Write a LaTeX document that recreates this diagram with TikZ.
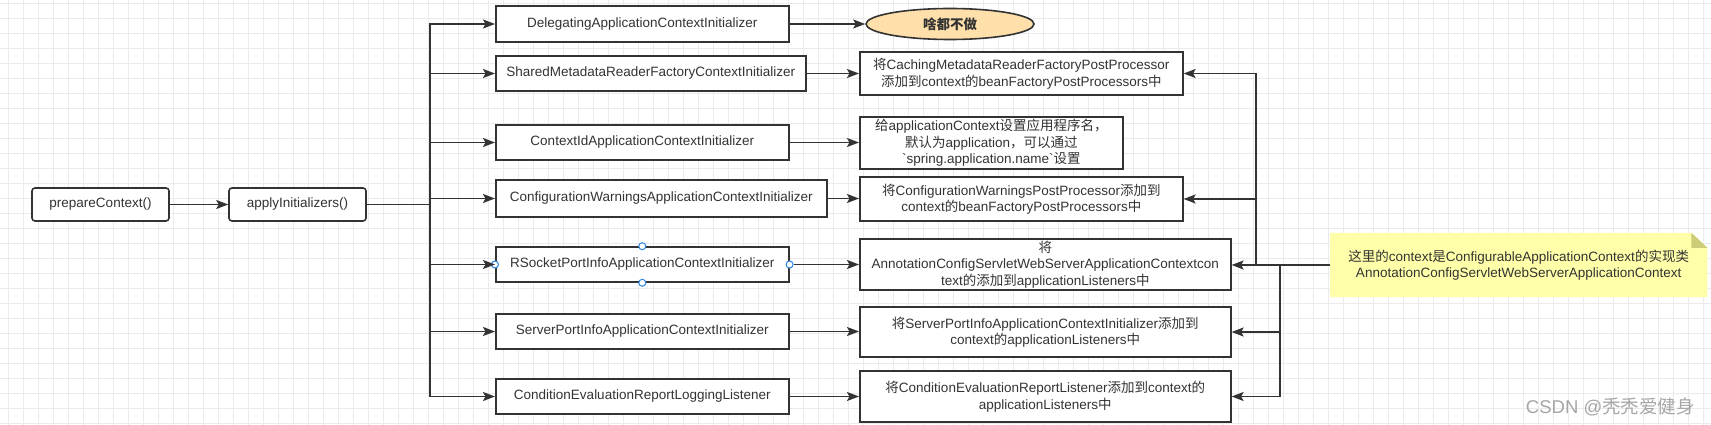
\documentclass[tikz,border=0pt]{standalone}
\usepackage{fontspec}
\setmainfont{Liberation Sans}
\newfontfamily\lat{Liberation Sans}
\newfontfamily\cjk{Noto Sans CJK SC}
\usetikzlibrary{arrows.meta,shapes.geometric,backgrounds}
\pgfdeclarelayer{gridlayer}
\pgfsetlayers{gridlayer,background,main}
\definecolor{ink}{HTML}{333333}
\definecolor{gridc}{HTML}{EBEBEB}
\definecolor{notefill}{HTML}{FFFFAA}
\definecolor{notefold}{HTML}{CDCD78}
\definecolor{ellfill}{HTML}{FFDFAA}
\definecolor{handlec}{HTML}{2A84E8}
\definecolor{wmark}{HTML}{A6A6A6}
\tikzset{
  txt/.style={text=ink, font=\lat\fontsize{13.5}{16.5}\selectfont, align=center, inner sep=0pt},
  box/.style={txt, draw=ink, line width=1.6pt, fill=white, anchor=west},
  rbox/.style={box, rounded corners=3pt, anchor=center},
  ell/.style={txt, ellipse, draw=ink, line width=1.6pt, fill=ellfill},
  conn/.style={draw=ink, line width=1.6pt, -{Stealth[length=12pt,width=9pt,inset=2.5pt]}},
  gridline/.style={draw=gridc, line width=0.8pt},
  handle/.style={circle, draw=handlec, fill=white, line width=1pt, minimum size=7pt, inner sep=0pt},
}
\begin{document}
\begin{tikzpicture}[x=1pt,y=-1pt]
\useasboundingbox (0,0) rectangle (1711,425);
\begin{pgfonlayer}{gridlayer}
  \fill[white] (0,0) rectangle (1711,425);
  \foreach \x in {8.3,23.3,...,1711} \draw[gridline] (\x,0) -- (\x,425);
  \foreach \y in {3.3,18.3,...,425} \draw[gridline] (0,\y) -- (1711,\y);
\end{pgfonlayer}

% left
\node[rbox, minimum width=137, minimum height=33] (pc) at (100.5,204.5) {prepareContext()};
\node[rbox, minimum width=137, minimum height=33] (ai) at (297.5,204.5) {applyInitializers()};

% initializers
\node[box, minimum width=293, minimum height=36] (i1) at (495,24) {DelegatingApplicationContextInitializer};
\node[box, minimum width=310, minimum height=35] (i2) at (495,73.5) {SharedMetadataReaderFactoryContextInitializer};
\node[box, minimum width=293, minimum height=35] (i3) at (495,142.5) {ContextIdApplicationContextInitializer};
\node[box, minimum width=331, minimum height=37] (i4) at (495,198.5) {ConfigurationWarningsApplicationContextInitializer};
\node[box, minimum width=293, minimum height=35] (i5) at (495,264.5) {RSocketPortInfoApplicationContextInitializer};
\node[box, minimum width=293, minimum height=35] (i6) at (495,331.5) {ServerPortInfoApplicationContextInitializer};
\node[box, minimum width=293, minimum height=35] (i7) at (495,396.5) {ConditionEvaluationReportLoggingListener};

% results
\node[ell, minimum width=168, minimum height=31] (e1) at (950,24) {{\cjk\bfseries 啥都不做}};
\node[box, minimum width=323, minimum height=43] (r2) at (859,73.5) {{\cjk 将}CachingMetadataReaderFactoryPostProcessor\\{\cjk 添加到}context{\cjk 的}beanFactoryPostProcessors{\cjk 中}};
\node[box, minimum width=263, minimum height=52] (r3) at (859,143) {{\cjk 给}applicationContext{\cjk 设置应用程序名，}\\{\cjk 默认为}application{\cjk ，可以通过}\\`spring.application.name`{\cjk 设置}};
\node[box, minimum width=323, minimum height=44] (r4) at (859,199) {{\cjk 将}ConfigurationWarningsPostProcessor{\cjk 添加到}\\context{\cjk 的}beanFactoryPostProcessors{\cjk 中}};
\node[box, minimum width=371, minimum height=51] (r5) at (859,264.5) {{\cjk 将}\\AnnotationConfigServletWebServerApplicationContextcon\\text{\cjk 的添加到}applicationListeners{\cjk 中}};
\node[box, minimum width=371, minimum height=50] (r6) at (859,332) {{\cjk 将}ServerPortInfoApplicationContextInitializer{\cjk 添加到}\\context{\cjk 的}applicationListeners{\cjk 中}};
\node[box, minimum width=371, minimum height=51] (r7) at (859,396.5) {{\cjk 将}ConditionEvaluationReportListener{\cjk 添加到}context{\cjk 的}\\applicationListeners{\cjk 中}};

% note
\node[txt, anchor=west, minimum width=377, minimum height=64] (note) at (1330,265) {{\cjk 这里的}context{\cjk 是}ConfigurableApplicationContext{\cjk 的实现类}\\AnnotationConfigServletWebServerApplicationContext};
\begin{scope}[on background layer]
  \fill[notefill] (note.north west) -- ([xshift=-16pt]note.north east) -- ([yshift=-15pt]note.north east) -- (note.south east) -- (note.south west) -- cycle;
  \fill[notefold] ([xshift=-16pt]note.north east) -- ([xshift=-16pt,yshift=-15pt]note.north east) -- ([yshift=-15pt]note.north east) -- cycle;
\end{scope}

% selection handles on RSocket box
\node[handle] (h1) at (i5.north) {};
\node[handle] (h2) at (i5.south) {};
\node[handle] (h3) at (i5.west) {};
\node[handle] (h4) at (i5.east) {};

% watermark
\node[anchor=east, text=wmark, font=\lat\fontsize{18.5}{20}\selectfont, inner sep=0pt] (wm) at (1695,407) {CSDN @{\cjk 秃秃爱健身}};

% connectors
\draw[conn] (pc.east) -- (ai.west);
\coordinate (bus) at (430,204.5);
\foreach \n in {i1,i2,i3,i4,i5,i6,i7}
  \draw[conn] (ai.east) -- (bus) |- (\n.west);

\draw[conn] (i1.east) -- (i1.east -| e1.west);
\draw[conn] (i2.east) -- (i2.east -| r2.west);
\draw[conn] (i3.east) -- (i3.east -| r3.west);
\draw[conn] (i4.east) -- (i4.east -| r4.west);
\draw[conn] (h4) -- (i5.east -| r5.west);
\draw[conn] (i6.east) -- (i6.east -| r6.west);
\draw[conn] (i7.east) -- (i7.east -| r7.west);

\coordinate (ja) at (1256,265);
\coordinate (jb) at (1280,265);
\draw[conn] (note.west) -- (ja) |- (r2.east);
\draw[conn] (note.west) -- (ja) |- (r4.east);
\draw[conn] (note.west) -- (note.west -| r5.east);
\draw[conn] (note.west) -- (jb) |- (r6.east);
\draw[conn] (note.west) -- (jb) |- (r7.east);
\end{tikzpicture}
\end{document}
